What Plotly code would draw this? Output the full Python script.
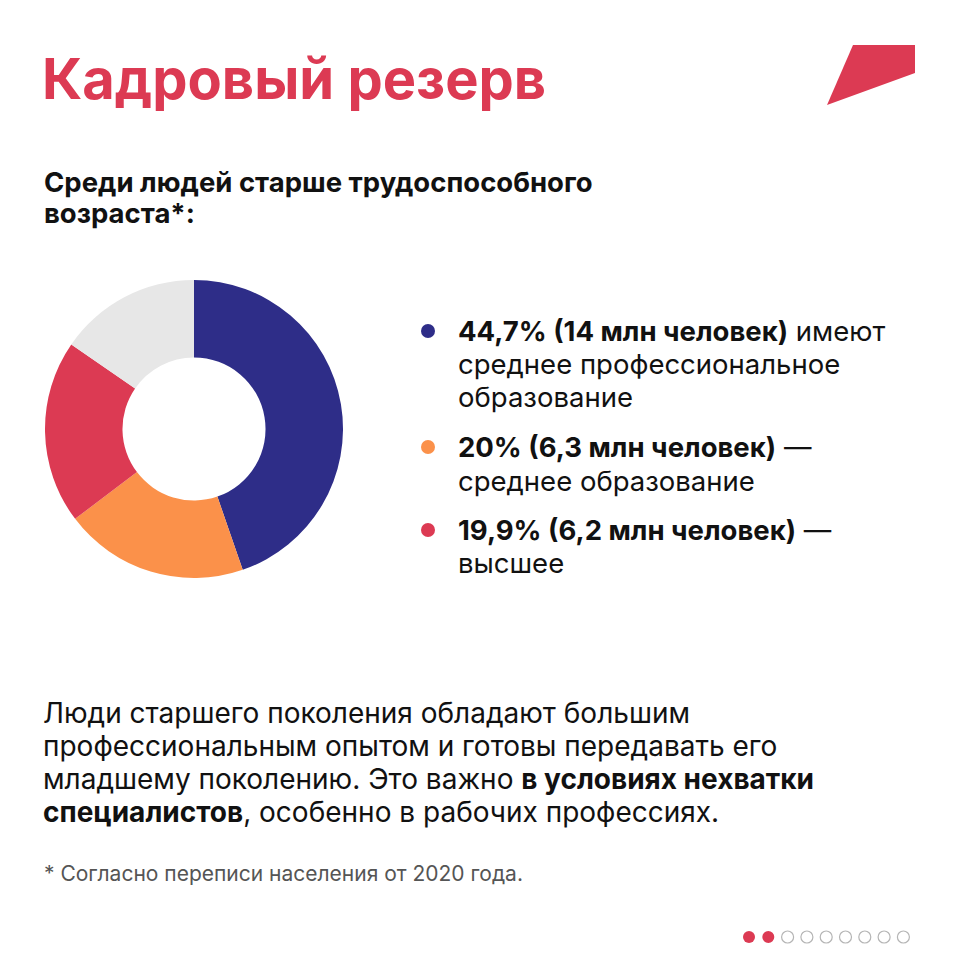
import plotly.graph_objects as go

# data
shares = [44.7, 20.0, 19.9, 15.4]  # last one is the remainder (grey)
share_colors = ["#2e2d88", "#fb914a", "#dc3a53", "#e7e7e7"]

legend_lines = [
    ["<b>44,7% (14 млн человек)</b> имеют", "среднее профессиональное", "образование"],
    ["<b>20% (6,3 млн человек)</b> —", "среднее образование"],
    ["<b>19,9% (6,2 млн человек)</b> —", "высшее"],
]
legend_y = [[331, 364, 397], [447, 481], [530, 563]]

title_text = "Кадровый резерв"
subtitle_lines = ["Среди людей старше трудоспособного", "возраста*:"]
body_lines = [
    "Люди старшего поколения обладают большим",
    "профессиональным опытом и готовы передавать его",
    "младшему поколению. Это важно <b>в условиях нехватки</b>",
    "<b>специалистов</b>, особенно в рабочих профессиях.",
]
footnote = "* Согласно переписи населения от 2020 года."

n_pages = 9
current_page = 2

RED = "#dc3a53"
FONT = "Inter"
W, H = 959, 960

fig = go.Figure()

fig.add_trace(go.Pie(
    values=shares,
    marker=dict(colors=share_colors, line=dict(width=0)),
    hole=0.48,
    sort=False,
    direction="clockwise",
    rotation=0,
    textinfo="none",
    hoverinfo="skip",
    showlegend=False,
    domain=dict(x=[45 / W, 343 / W], y=[1 - 578 / H, 1 - 280 / H]),
))

annotations = []
shapes = []

def text(x, y, s, size, color="#111111", bold=False):
    if bold:
        s = f"<b>{s}</b>"
    annotations.append(dict(
        x=x, y=y, xref="x", yref="y", text=s, showarrow=False,
        xanchor="left", yanchor="middle", align="left",
        font=dict(family=FONT, size=size, color=color),
    ))

# title
text(40, 79, title_text, 56, RED, bold=True)

# logo mark top right
shapes.append(dict(
    type="path", xref="x", yref="y",
    path="M 853 45 L 915 45 L 915 73 L 827 105 Z",
    fillcolor=RED, line=dict(width=0),
))

# subtitle
for i, s in enumerate(subtitle_lines):
    text(42, 182 + i * 31, s, 27.5, bold=True)

# legend
for k, lines in enumerate(legend_lines):
    cy = legend_y[k][0]
    shapes.append(dict(
        type="circle", xref="x", yref="y",
        x0=421, x1=435, y0=cy - 7, y1=cy + 7,
        fillcolor=share_colors[k], line=dict(width=0),
    ))
    for s, y in zip(lines, legend_y[k]):
        text(456, y, s, 27.5)

# paragraph
for i, s in enumerate(body_lines):
    text(41, 713 + i * 33, s, 28)

text(42, 873, footnote, 21, "#555555")

# page dots
for i in range(n_pages):
    cx = 749 + i * 19.3
    filled = i < current_page
    shapes.append(dict(
        type="circle", xref="x", yref="y",
        x0=cx - 6, x1=cx + 6, y0=937 - 6, y1=937 + 6,
        fillcolor=RED if filled else "white",
        line=dict(width=0 if filled else 1.2, color="#b5b5b5"),
    ))

fig.update_layout(
    width=W, height=H,
    margin=dict(l=0, r=0, t=0, b=0),
    paper_bgcolor="white", plot_bgcolor="white",
    xaxis=dict(range=[0, W], visible=False, fixedrange=True),
    yaxis=dict(range=[H, 0], visible=False, fixedrange=True),
    annotations=annotations,
    shapes=shapes,
)

# drop the browser's default 8px body margin so the figure sits at the page origin
fig.write_html(
    "out.html",
    config={"displayModeBar": False},
    post_script="document.body.style.margin = '0';",
)
